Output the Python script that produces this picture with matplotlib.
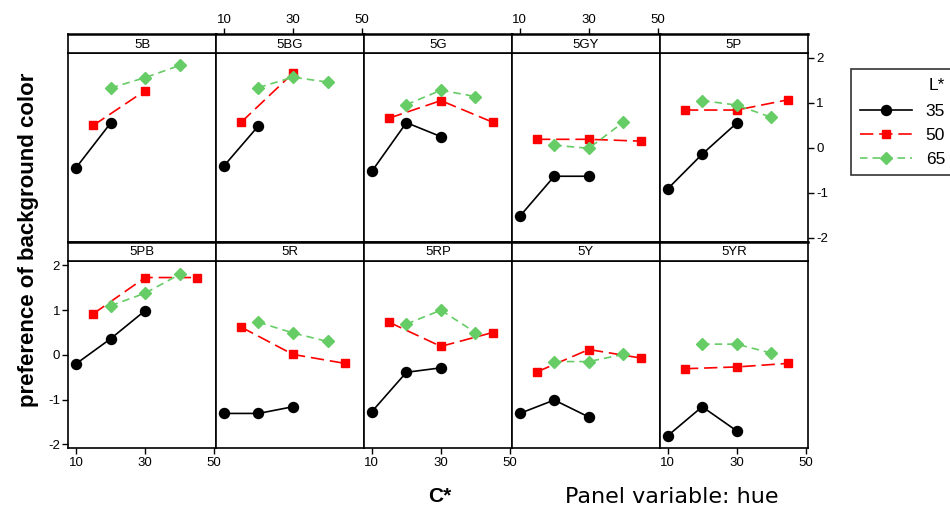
import numpy as np
import matplotlib
matplotlib.use("Agg")
import matplotlib.pyplot as plt
from matplotlib.lines import Line2D

plt.rcParams['font.family'] = ['Liberation Sans', 'DejaVu Sans']

nan = np.nan
hues = ['5B', '5BG', '5G', '5GY', '5P', '5PB', '5R', '5RP', '5Y', '5YR']
levels = ['35', '50', '65']
c_L35 = [10, 20, 30]
c_L50 = [15, 30, 45]
c_L65 = [20, 30, 40]

pref_L35 = [[-0.44, 0.55, nan], [-0.40, 0.49, nan], [-0.52, 0.56, 0.25],
            [-1.52, -0.63, -0.63], [-0.91, -0.14, 0.55], [-0.20, 0.36, 0.99],
            [-1.31, -1.31, -1.16], [-1.27, -0.39, -0.29], [-1.31, -1.01, -1.39],
            [-1.81, -1.16, -1.70]]
pref_L50 = [[0.50, 1.27, nan], [0.57, 1.66, nan], [0.66, 1.05, 0.57],
            [0.19, 0.19, 0.15], [0.84, 0.84, 1.07], [0.92, 1.73, 1.73],
            [0.62, 0.01, -0.19], [0.73, 0.19, 0.50], [-0.38, 0.12, -0.07],
            [-0.31, -0.27, -0.19]]
pref_L65 = [[1.33, 1.56, 1.83], [1.34, 1.57, 1.46], [0.96, 1.28, 1.14],
            [0.06, -0.01, 0.57], [1.05, 0.95, 0.68], [1.10, 1.38, 1.80],
            [0.73, 0.49, 0.30], [0.69, 1.00, 0.50], [-0.15, -0.15, 0.01],
            [0.24, 0.24, 0.04]]
x_ticks = [10, 30, 50]
y_ticks = [-2, -1, 0, 1, 2]

W, H = 950, 514
fig = plt.figure(figsize=(W / 100, H / 100), dpi=100)

styles = [
    dict(color='black', marker='o', markersize=7.2, linestyle='-', linewidth=1.2),
    dict(color='#ff0000', marker='s', markersize=6.2, linestyle=(0, (8, 3.5)), linewidth=1.2),
    dict(color='#66cc66', marker='D', markersize=6.5, linestyle=(0, (4.5, 3)), linewidth=1.2),
]
cs = [c_L35, c_L50, c_L65]
prefs = [pref_L35, pref_L50, pref_L65]

x0 = 68.3
colw = 147.9
rows = [dict(strip=(34, 53.3), panel=(53.3, 242)),
        dict(strip=(242, 261), panel=(261, 448.3))]
xlim = (7.75, 50.6)
ylim = (-2.09, 2.1)

for i, hue in enumerate(hues):
    r = i // 5
    c = i % 5
    left = x0 + c * colw
    pt, pb = rows[r]['panel']
    st, sb = rows[r]['strip']
    ax = fig.add_axes([left / W, 1 - pb / H, colw / W, (pb - pt) / H])
    sax = fig.add_axes([left / W, 1 - sb / H, colw / W, (sb - st) / H])
    for k in range(3):
        ax.plot(cs[k], prefs[k][i], **styles[k], clip_on=False, zorder=3)
    ax.set_xlim(*xlim)
    ax.set_ylim(*ylim)
    for sp in ax.spines.values():
        sp.set_linewidth(1.2)
    ax.tick_params(length=4, width=1.0, labelsize=9.5, colors='black', pad=2)
    if r == 1 and c % 2 == 0:
        ax.set_xticks(x_ticks)
        ax.set_xticklabels([str(t) for t in x_ticks])
    else:
        ax.set_xticks([])
    if r == 1 and c == 0:
        ax.set_yticks(y_ticks)
        ax.set_yticklabels([str(t) for t in y_ticks])
    elif r == 0 and c == 4:
        ax.yaxis.tick_right()
        ax.set_yticks(y_ticks)
        ax.set_yticklabels([str(t) for t in y_ticks])
    else:
        ax.set_yticks([])
    sax.set_xlim(*xlim)
    sax.set_ylim(0, 1)
    sax.set_yticks([])
    for sp in sax.spines.values():
        sp.set_linewidth(1.2)
    sax.spines['top'].set_linewidth(1.8)
    sax.text(0.5, 0.45, hue, transform=sax.transAxes, ha='center', va='center',
             fontsize=9.5)
    if r == 0 and c % 2 == 1:
        sax.xaxis.tick_top()
        sax.set_xticks(x_ticks)
        sax.set_xticklabels([str(t) for t in x_ticks])
        sax.tick_params(axis='x', length=4, width=1.0, labelsize=9.5, pad=2)
    else:
        sax.set_xticks([])

fig.text(29 / W, 1 - 240 / H, 'preference of background color', rotation=90,
         ha='center', va='center', fontsize=16, fontweight='bold')
fig.text(440 / W, 1 - 497 / H, 'C*', ha='center', va='center',
         fontsize=15, fontweight='bold')
fig.text(565 / W, 1 - 497 / H, 'Panel variable: hue', ha='left', va='center',
         fontsize=16, family='DejaVu Sans')

handles = [Line2D([], [], **styles[k]) for k in range(3)]
leg = fig.legend(handles, levels, title='L*', loc='upper left',
                 bbox_to_anchor=(851 / W, 1 - 69 / H), frameon=True,
                 fontsize=12.5, title_fontsize=12.5, handlelength=3.0,
                 borderpad=0.5, borderaxespad=0.0, labelspacing=0.5,
                 handletextpad=0.8, fancybox=False, alignment='right')
leg.get_frame().set_edgecolor('black')
leg.get_frame().set_linewidth(1.2)
leg._legend_box.sep = 8

fig.savefig('out.png', dpi=100)
